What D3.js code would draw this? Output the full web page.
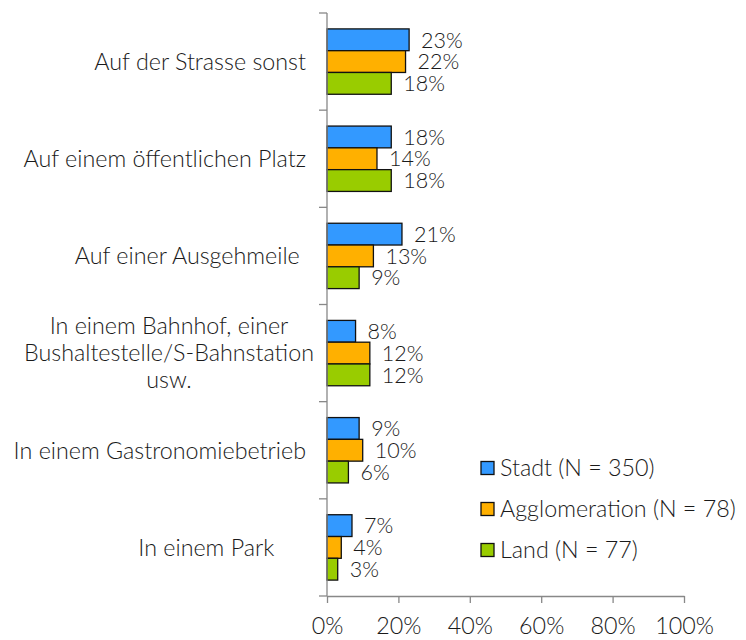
<!DOCTYPE html>
<html lang="de">
<head>
<meta charset="UTF-8">
<title>Orte nach Region</title>
<script src="https://d3js.org/d3.v7.min.js"></script>
<style>
  body { margin: 0; background: #fff; }
  svg text { font-family: Lato, "Open Sans", sans-serif; font-weight: 300; fill: #1a1a1a; }
</style>
</head>
<body>
<div id="chart"></div>
<script>
  const width = 746;
  const height = 640;

  // categories, top to bottom (trailing spaces as in the source labels)
  const categories = [
    "Auf der Strasse sonst",
    "Auf einem öffentlichen Platz",
    "Auf einer Ausgehmeile\u00a0",
    "In einem Bahnhof, einer|Bushaltestelle/S-Bahnstation|usw.",
    "In einem Gastronomiebetrieb",
    "In einem Park\u00a0\u00a0\u00a0\u00a0\u00a0"
  ];
  const seriesNames = ["Stadt (N = 350)", "Agglomeration (N = 78)", "Land (N = 77)"];
  const stadt = [23, 18, 21, 8, 9, 7];
  const agglo = [22, 14, 13, 12, 10, 4];
  const land = [18, 18, 9, 12, 6, 3];
  const colors = ["#3399ff", "#ffb000", "#99cc00"];
  const xTicks = [0, 20, 40, 60, 80, 100];

  const series = [stadt, agglo, land];
  const margin = { top: 13, left: 327, right: 62, bottom: 44 };
  const fs = 23.3;   // category, legend, axis text
  const vfs = 21.5;  // value labels

  const x = d3.scaleLinear().domain([0, 100]).range([margin.left, width - margin.right]);
  const y = d3.scaleBand().domain(categories).range([margin.top, height - margin.bottom]).paddingInner(0).paddingOuter(0);
  const inner = d3.scaleBand().domain(d3.range(series.length)).range([0, y.bandwidth()]).paddingOuter(0.73).paddingInner(0);

  const svg = d3.select("#chart").append("svg")
    .attr("width", width)
    .attr("height", height);

  // bars
  series.forEach((vals, si) => {
    svg.append("g").selectAll("rect")
      .data(categories)
      .join("rect")
      .attr("x", x(0))
      .attr("y", c => y(c) + inner(si))
      .attr("width", (c, i) => x(vals[i]) - x(0))
      .attr("height", inner.bandwidth())
      .attr("fill", colors[si])
      .attr("stroke", "#111")
      .attr("stroke-width", 1.3);

    svg.append("g").selectAll("text")
      .data(categories)
      .join("text")
      .attr("x", (c, i) => x(vals[i]) + 12)
      .attr("y", c => y(c) + inner(si) + inner.bandwidth() / 2)
      .attr("dy", "0.36em")
      .attr("font-size", vfs)
      .text((c, i) => vals[i] + "%");
  });

  // x axis
  const xAxis = svg.append("g")
    .attr("transform", `translate(0,${height - margin.bottom})`)
    .call(d3.axisBottom(x).tickValues(xTicks).tickSize(7).tickSizeOuter(0).tickPadding(14).tickFormat(d => d + "%"));
  xAxis.select(".domain").attr("stroke", "#888").attr("stroke-width", 1.3);
  xAxis.selectAll(".tick line").attr("stroke", "#888").attr("stroke-width", 1.3);
  xAxis.selectAll("text").attr("font-size", fs).attr("fill", "#1a1a1a");

  // y axis: line with ticks at band boundaries
  const yg = svg.append("g");
  yg.append("line")
    .attr("x1", x(0)).attr("x2", x(0))
    .attr("y1", margin.top).attr("y2", height - margin.bottom)
    .attr("stroke", "#888").attr("stroke-width", 1.3);
  yg.selectAll(".bnd")
    .data(categories)
    .join("line")
    .attr("x1", x(0) - 8).attr("x2", x(0))
    .attr("y1", c => y(c)).attr("y2", c => y(c))
    .attr("stroke", "#888").attr("stroke-width", 1.3);
  yg.append("line")
    .attr("x1", x(0) - 8).attr("x2", x(0))
    .attr("y1", height - margin.bottom).attr("y2", height - margin.bottom)
    .attr("stroke", "#888").attr("stroke-width", 1.3);

  // category labels
  const lineH = 27;
  categories.forEach(c => {
    const lines = c.split("|");
    const cy = y(c) + y.bandwidth() / 2;
    const t = svg.append("text")
      .attr("font-size", fs)
      .attr("xml:space", "preserve")
      .attr("text-anchor", lines.length > 1 ? "middle" : "end");
    lines.forEach((ln, i) => {
      t.append("tspan")
        .attr("x", lines.length > 1 ? 169 : 306)
        .attr("y", cy + (i - (lines.length - 1) / 2) * lineH)
        .attr("dy", "0.36em")
        .text(ln);
    });
  });

  // legend
  const legend = svg.append("g");
  seriesNames.forEach((name, i) => {
    const ly = 468 + i * 41;
    legend.append("rect")
      .attr("x", 481).attr("y", ly - 6.5)
      .attr("width", 13).attr("height", 13)
      .attr("fill", colors[i]).attr("stroke", "#111").attr("stroke-width", 1.3);
    legend.append("text")
      .attr("x", 500).attr("y", ly)
      .attr("dy", "0.36em")
      .attr("font-size", fs)
      .text(name);
  });
</script>
</body>
</html>
